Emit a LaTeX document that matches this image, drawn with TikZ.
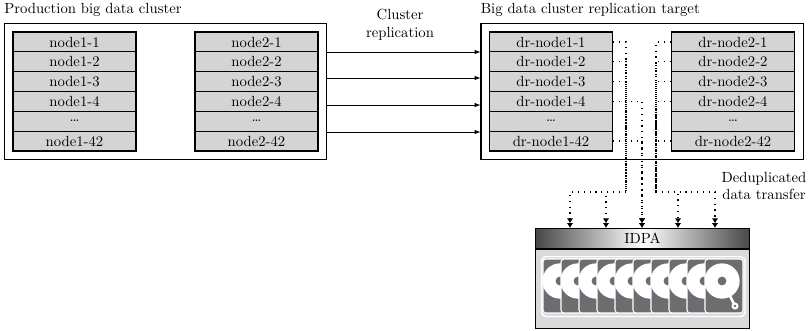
\documentclass[tikz,border=0pt]{standalone}
\usetikzlibrary{positioning,fit,arrows.meta}

\definecolor{cellgray}{RGB}{212,212,212}
\definecolor{bodygray}{RGB}{218,218,218}
\definecolor{drivegray}{RGB}{108,109,112}

\tikzset{
	cell/.style = {draw, fill = cellgray, line width = 0.8pt, minimum width = 83.6pt, minimum height = 13.5pt, inner sep = 0pt},
	frame/.style = {draw, line width = 0.7pt, inner sep = 5.4pt},
	title/.style = {anchor = base west, inner sep = 0pt},
	dedup/.style = {line width = 0.8pt, dash pattern = on 0.8pt off 3.2pt},
	feed/.style = {-{Latex[length = 3.2pt, width = 4.4pt] Latex[length = 3.2pt, width = 4.4pt]}},
	drive/.style = {fill = drivegray, draw = white, line width = 0.7pt, rounded corners = 2pt}
}

\begin{document}
\begin{tikzpicture}[> = latex, x = 0.68pt, y = -0.68pt]

	\useasboundingbox (0, 0) rectangle (811, 330);

	% Node columns, two in each cluster

	\foreach \c/\x/\pre in {a/74.5/node1, b/256.5/node2, c/551/dr-node1, d/733/dr-node2} {
		\foreach \r/\y/\num in {1/42/1, 2/61.8/2, 3/81.6/3, 4/101.4/4, 6/141/42}
			\node (\c\r) [cell] at (\x, \y) {\pre-\num};
		\node (\c5) [cell] at (\x, 121.2) {\ldots};
	}

	% Cluster frames and titles

	\node (prod) [frame, fit = (a1) (b6)] {};
	\node (target) [frame, fit = (c1) (d6)] {};

	\node (prodtitle) [title] at ([yshift = 6.8pt] prod.north west) {Production big data cluster};
	\node (targettitle) [title] at ([yshift = 6.8pt] target.north west) {Big data cluster replication target};

	% Replication links

	\foreach \y in {52, 78, 105, 132}
		\draw [->] (prod.east |- 0, \y) -- (target.west |- 0, \y);

	\node (repl) [align = center] at (400, 25) {Cluster\\replication};

	% IDPA appliance

	\node (idpa) [draw, line width = 0.9pt, minimum width = 145.5pt, minimum height = 13.6pt, inner sep = 0pt,
		left color = black!72, right color = black!72, middle color = white] at (642.5, 238.5) {IDPA};
	\node (store) [draw, line width = 0.9pt, fill = bodygray, minimum width = 145.5pt, minimum height = 53.4pt,
		below = 0pt of idpa] {};

	\draw [white, line width = 1pt, rounded corners = 3pt] (541.5, 256.5) rectangle (745, 316.5);

	\foreach \k in {0, ..., 9} {
		\begin{scope}[shift = {(543 + 18 * \k, 259)}]
			\path [drive] (0, 0) rectangle (38, 54);
			\begin{scope}
				\clip [rounded corners = 2pt] (0, 0) rectangle (38, 54);
				\fill [white] (17, 22) circle [radius = 12pt];
			\end{scope}
			\fill [drivegray] (17, 22) circle [radius = 3pt];
		\end{scope}
	}

	% Head arm on the front drive

	\begin{scope}[shift = {(705, 259)}]
		\draw [white, line width = 1.8pt, line cap = round] (22, 31) -- (30, 47);
		\fill [white] (30, 47) circle [radius = 2.4pt];
		\fill [drivegray] (30, 47) circle [radius = 1pt];
	\end{scope}

	% Deduplicated transfer paths

	\coordinate (jl) at (626, 192);
	\coordinate (jr) at (656, 192);

	\foreach \r in {1, 2, 3}
		\draw [dedup] (c\r.east) -| (jl);
	\foreach \r in {4, 6}
		\draw [dedup, feed] (c\r.east) -| (642, 0 |- idpa.north);
	\foreach \r in {1, 2, 3, 4, 6}
		\draw [dedup] (d\r.west) -| (jr);

	\foreach \x in {570, 606}
		\draw [dedup, feed] (jl) -| (\x, 0 |- idpa.north);
	\foreach \x in {678, 715}
		\draw [dedup, feed] (jr) -| (\x, 0 |- idpa.north);

	\node (dedupnote) [align = center] at (764, 186) {Deduplicated\\data transfer};

\end{tikzpicture}
\end{document}
